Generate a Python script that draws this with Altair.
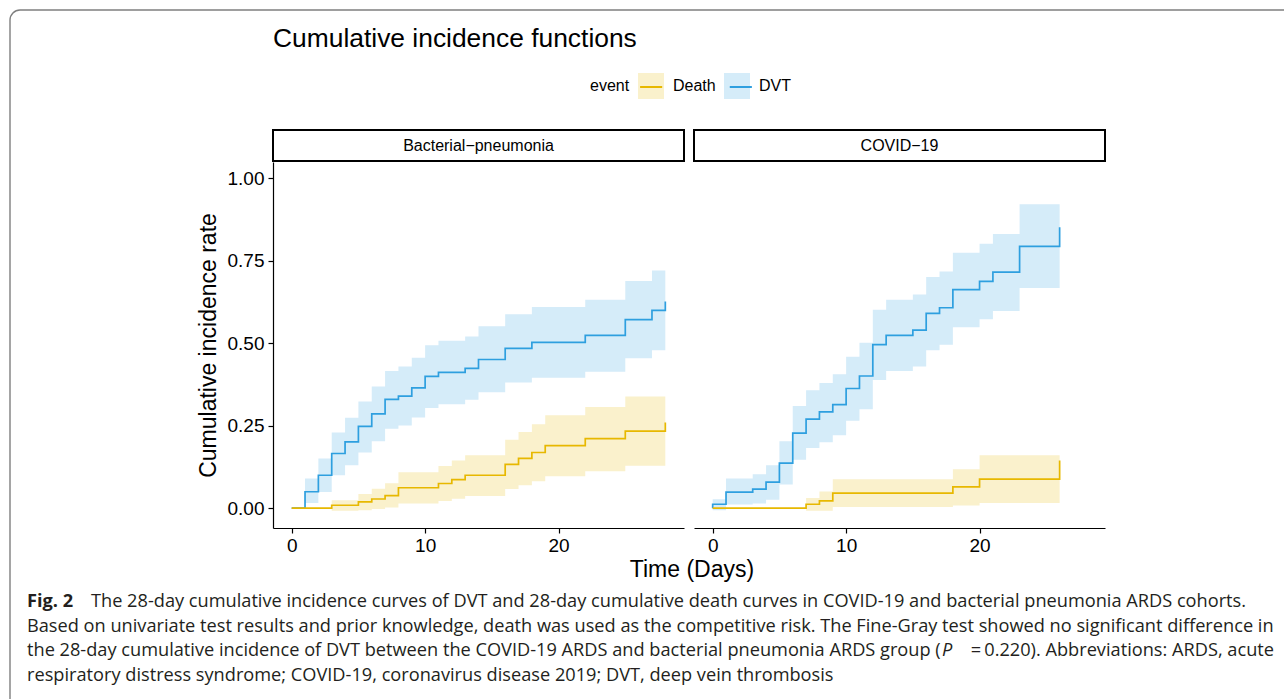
import altair as alt
import pandas as pd

# ---------------- data ----------------
GROUPS = ["Bacterial-pneumonia", "COVID-19"]
STRIP_LABELS = ["Bacterial\u2212pneumonia", "COVID\u221219"]
EVENTS = ["Death", "DVT"]
LINE_COLORS = ["#E7B800", "#2E9FDF"]
BAND_COLORS = ["#FAF1CC", "#D5ECF9"]

# Bacterial pneumonia - DVT
bp_dvt_time = [0, 1, 2, 3, 4, 5, 6, 7, 8, 9, 10, 11, 13, 14, 16, 18, 22, 25, 27, 28]
bp_dvt_est = [0.0, 0.050, 0.100, 0.166, 0.201, 0.248, 0.286, 0.330, 0.340, 0.365,
              0.400, 0.412, 0.424, 0.451, 0.485, 0.503, 0.524, 0.572, 0.600, 0.627]
bp_dvt_band_time = [1, 2, 3, 4, 5, 6, 7, 8, 9, 10, 11, 13, 14, 16, 18, 22, 25, 27, 28]
bp_dvt_lo = [0.016, 0.049, 0.100, 0.130, 0.169, 0.203, 0.241, 0.251, 0.275, 0.304,
             0.315, 0.329, 0.352, 0.381, 0.396, 0.414, 0.455, 0.479, 0.479]
bp_dvt_hi = [0.090, 0.151, 0.230, 0.274, 0.324, 0.369, 0.416, 0.430, 0.456, 0.494,
             0.508, 0.521, 0.552, 0.588, 0.610, 0.632, 0.689, 0.721, 0.721]

# Bacterial pneumonia - Death
bp_death_time = [0, 3, 5, 6, 7, 8, 11, 12, 13, 16, 17, 18, 19, 22, 25, 28]
bp_death_est = [0.0, 0.009, 0.019, 0.028, 0.038, 0.062, 0.075, 0.087, 0.100, 0.133,
                0.151, 0.169, 0.190, 0.211, 0.234, 0.260]
bp_death_band_time = [3, 5, 6, 7, 8, 11, 12, 13, 16, 17, 18, 19, 22, 25, 28]
bp_death_lo = [-0.008, -0.006, -0.002, 0.002, 0.014, 0.022, 0.029, 0.037, 0.058, 0.070,
               0.082, 0.097, 0.112, 0.129, 0.129]
bp_death_hi = [0.024, 0.043, 0.059, 0.076, 0.109, 0.128, 0.145, 0.161, 0.208, 0.231,
               0.255, 0.282, 0.307, 0.339, 0.339]

# COVID-19 - DVT
cv_dvt_time = [0, 0, 1, 3, 4, 5, 6, 7, 8, 9, 10, 11, 12, 13, 15, 16, 17, 18, 20, 21, 23, 26]
cv_dvt_est = [0.0, 0.012, 0.049, 0.058, 0.079, 0.137, 0.228, 0.270, 0.292, 0.314, 0.363,
              0.401, 0.496, 0.524, 0.540, 0.591, 0.608, 0.663, 0.688, 0.716, 0.794, 0.852]
cv_dvt_band_time = [0, 1, 3, 4, 5, 6, 7, 8, 9, 10, 11, 12, 13, 15, 16, 17, 18, 20, 21, 23, 26]
cv_dvt_lo = [-0.006, 0.011, 0.014, 0.026, 0.072, 0.147, 0.183, 0.200, 0.221, 0.265,
             0.300, 0.389, 0.416, 0.430, 0.479, 0.496, 0.549, 0.573, 0.598, 0.668, 0.668]
cv_dvt_hi = [0.027, 0.090, 0.103, 0.130, 0.203, 0.310, 0.358, 0.380, 0.406, 0.459,
             0.502, 0.602, 0.632, 0.648, 0.701, 0.718, 0.775, 0.802, 0.832, 0.922, 0.922]

# COVID-19 - Death
cv_death_time = [0, 7, 8, 9, 18, 20, 26]
cv_death_est = [0.0, 0.012, 0.022, 0.046, 0.065, 0.088, 0.145]
cv_death_band_time = [7, 8, 9, 18, 20, 26]
cv_death_lo = [-0.008, -0.008, 0.004, 0.008, 0.016, 0.016]
cv_death_hi = [0.031, 0.051, 0.088, 0.118, 0.161, 0.161]

X_TICKS = [0, 10, 20]
Y_TICKS = [0, 0.25, 0.5, 0.75, 1.0]

TITLE = "Cumulative incidence functions"
X_TITLE = "Time (Days)"
Y_TITLE = "Cumulative incidence rate"
CAPTION_BOLD = "Fig. 2"
CAPTION_LINE1 = ("The 28-day cumulative incidence curves of DVT and 28-day cumulative death "
                 "curves in COVID-19 and bacterial pneumonia ARDS cohorts.")
CAPTION_LINE2 = ("Based on univariate test results and prior knowledge, death was used as the "
                 "competitive risk. The Fine-Gray test showed no significant difference in")
CAPTION_LINE3A = ("the 28-day cumulative incidence of DVT between the COVID-19 ARDS and "
                  "bacterial pneumonia ARDS group (")
CAPTION_LINE3P = "P"
CAPTION_LINE3B = "\u2009=\u20090.220). Abbreviations: ARDS, acute"
CAPTION_LINE4 = ("respiratory distress syndrome; COVID-19, coronavirus disease 2019; DVT, "
                 "deep vein thrombosis")

# ---------------- table ----------------
rows = []
curves = [
    (GROUPS[0], "DVT", bp_dvt_time, bp_dvt_est, bp_dvt_band_time, bp_dvt_lo, bp_dvt_hi),
    (GROUPS[0], "Death", bp_death_time, bp_death_est, bp_death_band_time, bp_death_lo, bp_death_hi),
    (GROUPS[1], "DVT", cv_dvt_time, cv_dvt_est, cv_dvt_band_time, cv_dvt_lo, cv_dvt_hi),
    (GROUPS[1], "Death", cv_death_time, cv_death_est, cv_death_band_time, cv_death_lo, cv_death_hi),
]
order = 0
for g, ev, lt, le, bt, blo, bhi in curves:
    for t, e in zip(lt, le):
        rows.append(dict(group=g, kind="line", event=ev, event2=ev, t=t, est=e, o=order))
        order += 1
    for t, lo, hi in zip(bt, blo, bhi):
        rows.append(dict(group=g, kind="band", event=ev, t=t, lo=lo, hi=hi, o=order))
        order += 1
for g, lab in zip(GROUPS, STRIP_LABELS):
    rows.append(dict(group=g, kind="strip", label=lab))
rows.append(dict(group=GROUPS[0], kind="note"))
df = pd.DataFrame(rows)

# ---------------- chart ----------------
W, H = 411, 366
OX, OY = 273, 162          # page position of the left panel's top-left corner
FONT = "Liberation Sans"
CAP_FONT = "Open Sans"
CAP_SIZE = 18.2
CAP_COLOR = "#231f20"

xscale = alt.Scale(domain=[-1.4, 29.4], nice=False, zero=False)
yscale = alt.Scale(domain=[-0.06, 1.05], nice=False, zero=False)
xaxis = alt.Axis(values=X_TICKS, title=None, grid=False, labelFontSize=19, labelColor="black",
                 tickColor="black", tickSize=5, tickWidth=1.2, domainColor="black",
                 domainWidth=1.2, labelPadding=3, labelFont=FONT)
yaxis = alt.Axis(values=Y_TICKS, format=".2f", title=Y_TITLE, grid=False, labelFontSize=19,
                 labelColor="black", tickColor="black", tickSize=5, tickWidth=1.2,
                 domainColor="black", domainWidth=1.2, labelPadding=4, labelFont=FONT,
                 titleFont=FONT, titleFontSize=23, titleFontWeight="normal",
                 titleColor="black", titlePadding=7)

LEG_X, LEG_Y = 317, -89
LEG_FONT_SIZE = 16
TITLE_W = 2.446 * LEG_FONT_SIZE      # width of "event" in Liberation Sans
DEATH_W = 2.668 * LEG_FONT_SIZE      # width of "Death" in Liberation Sans
common_leg = dict(orient="none", legendY=LEG_Y, direction="horizontal", symbolSize=676,
                  gridAlign="each", labelFontSize=LEG_FONT_SIZE, labelColor="black",
                  labelFont=FONT)

fill_legend = alt.Legend(
    title="event", legendX=LEG_X, titleOrient="left", titleAnchor="middle",
    titleBaseline="middle", labelOffset=9, columnPadding=8, titlePadding=8,
    titleFontSize=LEG_FONT_SIZE, titleFontWeight="normal", titleColor="black",
    titleFont=FONT, symbolType="square", symbolStrokeWidth=0, **common_leg)
stroke_legend = alt.Legend(
    title=None, legendX=LEG_X + TITLE_W + 8, labelOffset=9, columnPadding=8 + DEATH_W,
    labelExpr="''", symbolType="M-0.85,0H0.85", symbolStrokeWidth=2,
    symbolFillColor="transparent", **common_leg)

base = alt.Chart()

frame = base.transform_filter(alt.datum.kind == "note").mark_rect(
    filled=False, stroke="#7f7f7f", strokeWidth=1.4, cornerRadius=10
).encode(x=alt.value(10 - OX), x2=alt.value(1300 - OX),
         y=alt.value(10 - OY), y2=alt.value(720 - OY))

band = base.transform_filter(alt.datum.kind == "band").mark_area(
    interpolate="step-after", opacity=1
).encode(
    x=alt.X("t:Q", scale=xscale, axis=xaxis),
    y=alt.Y("lo:Q", scale=yscale, axis=yaxis),
    y2=alt.Y2("hi:Q"),
    fill=alt.Fill("event:N", sort=EVENTS, scale=alt.Scale(range=BAND_COLORS),
                  legend=fill_legend),
)

line = base.transform_filter(alt.datum.kind == "line").mark_line(
    interpolate="step-after", strokeWidth=1.7
).encode(
    x=alt.X("t:Q", scale=xscale, axis=xaxis),
    y=alt.Y("est:Q", scale=yscale, axis=yaxis),
    stroke=alt.Stroke("event2:N", sort=EVENTS, scale=alt.Scale(range=LINE_COLORS),
                      legend=stroke_legend),
    order="o:Q",
)

strip_box = base.transform_filter(alt.datum.kind == "strip").mark_rect(
    filled=False, stroke="black", strokeWidth=2
).encode(x=alt.value(0), x2=alt.value(W), y=alt.value(-32), y2=alt.value(-1))

strip_text = base.transform_filter(alt.datum.kind == "strip").mark_text(
    font=FONT, fontSize=16, color="black", align="center", baseline="middle"
).encode(text="label:N", x=alt.value(W / 2), y=alt.value(-16))

note = base.transform_filter(alt.datum.kind == "note")


def txt(s, x, y, **kw):
    props = dict(font=FONT, color="black", align="left", baseline="alphabetic")
    props.update(kw)
    return note.mark_text(**props).encode(text=alt.value(s), x=alt.value(x - OX),
                                          y=alt.value(y - OY))


title = txt(TITLE, 273, 47, fontSize=26.4)
xtitle = txt(X_TITLE, 692, 570, fontSize=23, align="center", baseline="middle")
cap = dict(font=CAP_FONT, fontSize=CAP_SIZE, color=CAP_COLOR)
captions = [
    txt(CAPTION_BOLD, 27, 607, fontWeight="bold", **cap),
    txt(CAPTION_LINE1, 91, 607, **cap),
    txt(CAPTION_LINE2, 27, 631.5, **cap),
    txt(CAPTION_LINE3A, 27, 656, **cap),
    txt(CAPTION_LINE3P, 942, 656, fontStyle="italic", **cap),
    txt(CAPTION_LINE3B, 1274, 656, align="right", **cap),
    txt(CAPTION_LINE4, 27, 680.5, **cap),
]

layered = alt.layer(frame, band, line, strip_box, strip_text, title, xtitle, *captions,
                    data=df).properties(width=W, height=H)

chart = layered.facet(
    column=alt.Column("group:N", sort=GROUPS, header=None),
    spacing=10,
    bounds="flush",
).properties(
    autosize=alt.AutoSizeParams(type="none"),
    padding={"left": OX, "top": OY, "right": 1284 - OX, "bottom": 699 - OY},
).configure(font=FONT).configure_view(stroke=None)

chart.save("out.html", embed_options={"renderer": "svg", "actions": False})
